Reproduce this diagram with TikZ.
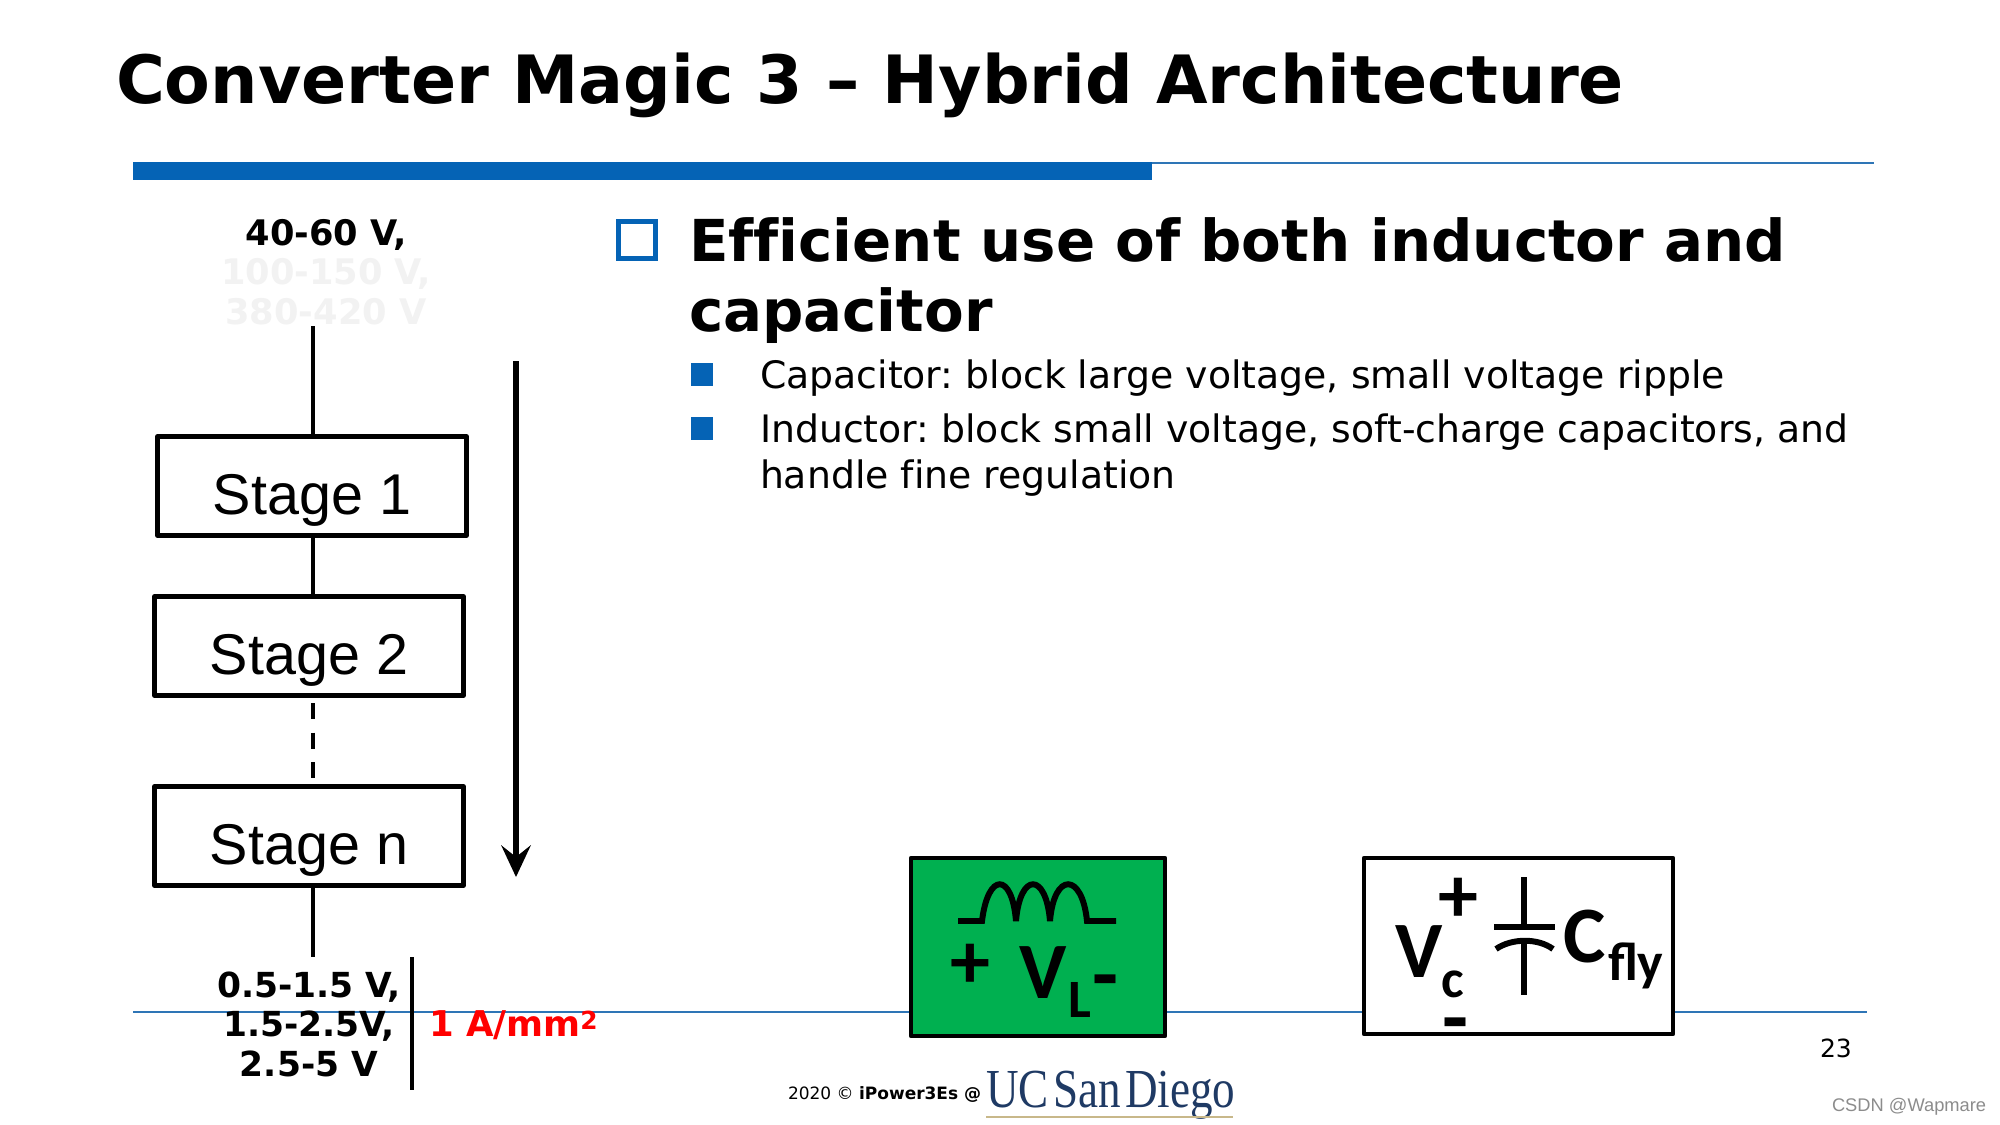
\documentclass[tikz,border=0pt]{standalone}
\usepackage{fontspec}
\setmainfont[Ligatures=NoCommon]{DejaVu Sans}
\newfontfamily\arialf{Liberation Sans}
\newfontfamily\carl{Carlito}
\newfontfamily\timesf[FakeStretch=0.82,WordSpace=0.4]{Liberation Serif}
\newcommand\pxf[1]{\pgfmathsetmacro\tmpfs{#1*1.42264}\fontsize{\tmpfs pt}{\tmpfs pt}\selectfont}
\frenchspacing
\definecolor{ucblue}{HTML}{0563B5}
\definecolor{linebl}{HTML}{2E75B6}
\definecolor{green1}{HTML}{00B050}
\definecolor{faint}{HTML}{F2F2F2}
\definecolor{logob}{HTML}{1F3A64}
\definecolor{logog}{HTML}{C8B88A}
\tikzset{
 txt/.style={inner sep=0pt,outer sep=0pt,anchor=base west},
 ctxt/.style={inner sep=0pt,outer sep=0pt,anchor=base},
 stagebox/.style={draw=black,line width=6.3pt,line join=round,fill=white,inner sep=0pt,minimum width=15.45cm,minimum height=4.95cm,text height=2.8cm,text depth=0pt,font=\arialf\pxf{57.5}},
 wire/.style={line width=6.3pt,black},
 sym/.style={line width=8.5pt,black},
 compbox/.style={draw=black,line width=6.3pt,line join=round,inner sep=0pt},
}
\begin{document}
\begin{tikzpicture}[x=0.05cm,y=-0.05cm]
\useasboundingbox (0,0) rectangle (2000,1125);
\fill[white] (0,0) rectangle (2000,1125);
% rules
\fill[ucblue] (133,162) rectangle (1152,180);
\draw[linebl,line width=3.5pt] (1152,163) -- (1874,163);
\draw[linebl,line width=3.5pt] (133,1012) -- (1867,1012);
% title
\node[txt,font=\bfseries\pxf{66.6}] (title) at (116,104) {Converter Magic 3 – Hybrid Architecture};
% left
\node[stagebox] (s1) at (312,486) {Stage 1};
\node[stagebox] (s2) at (309,646) {Stage 2};
\node[stagebox] (sn) at (309,836) {Stage n};
\coordinate (intop) at (313,326);
\coordinate (outbot) at (313,957);
\coordinate (dasha) at (313,703);
\coordinate (dashb) at (313,779);
\draw[wire] (intop) -- (313,436);
\draw[wire] (313,536) -- (313,597);
\draw[wire,dash pattern=on 22.8pt off 19.2pt] (dasha) -- (dashb);
\draw[wire] (313,886) -- (outbot);
\node[ctxt,font=\bfseries\pxf{35.2}] (v1) at (326,245) {40-60 V,};
\node[ctxt,font=\bfseries\pxf{35.2},text=faint] (v2) at (326,284) {100-150 V,};
\node[ctxt,font=\bfseries\pxf{35.2},text=faint] (v3) at (326,324) {380-420 V};
\coordinate (arrtop) at (516,361);
\coordinate (arrbot) at (516,877);
\draw[line width=8.5pt,black] (arrtop) -- (516,860);
\fill[black] (arrbot) -- (501,845) -- (516,857) -- (531,845) -- cycle;
\node[ctxt,font=\bfseries\pxf{34.5}] (o1) at (309,997) {0.5-1.5 V,};
\node[ctxt,font=\bfseries\pxf{34.5}] (o2) at (309,1036) {1.5-2.5V,};
\node[ctxt,font=\bfseries\pxf{34.5}] (o3) at (309,1076) {2.5-5 V};
\coordinate (vt) at (412,957);
\coordinate (vb) at (412,1090);
\draw[wire] (vt) -- (vb);
\node[txt,font=\bfseries\pxf{35.5},text=red] (dens) at (429,1036) {1 A/mm\textsuperscript{2}};
% bullets
\draw[ucblue,line width=7pt] (618.5,221.5) rectangle (655.5,258.5);
\node[txt,font=\bfseries\pxf{57.8}] (h1) at (689,261) {Efficient use of both inductor and};
\node[txt,font=\bfseries\pxf{57.8}] (h2) at (689,331) {capacitor};
\fill[ucblue] (691,363) rectangle (713,386);
\fill[ucblue] (691,417) rectangle (713,440);
\node[txt,font=\pxf{37.8}] (b1) at (760,388) {Capacitor: block large voltage, small voltage ripple};
\node[txt,font=\pxf{37.8}] (b2) at (760,442) {Inductor: block small voltage, soft-charge capacitors, and};
\node[txt,font=\pxf{37.8}] (b3) at (760,488) {handle fine regulation};
% green box
\node[compbox,fill=green1,minimum width=12.7cm,minimum height=8.9cm] (gb) at (1038,947) {};
\draw[sym] (958,921) -- (982,921) .. controls (988,872) and (1012,872) .. (1016,921)
  .. controls (1020,872) and (1046,872) .. (1050,921)
  .. controls (1054,872) and (1082,872) .. (1087,921) -- (1116,921);
\node[ctxt,font=\carl\bfseries\pxf{80}] (pl) at (970,988) {+};
\node[txt,font=\carl\bfseries\pxf{80}] (vl) at (1019,998) {V};
\node[txt,font=\carl\bfseries\pxf{54}] (vls) at (1068,1017) {L};
\node[ctxt,font=\carl\bfseries\pxf{85}] (mi) at (1105,1003) {-};
% white box
\node[compbox,fill=white,minimum width=15.45cm,minimum height=8.8cm] (wb) at (1518.5,946) {};
\draw[sym] (1524,877) -- (1524,927);
\draw[sym] (1494,927) -- (1555,927);
\draw[sym] (1496,949) .. controls (1512,938) and (1538,938) .. (1553,949);
\draw[sym] (1524,941) -- (1524,995);
\node[txt,font=\carl\bfseries\pxf{80}] (vc) at (1395,977) {V};
\node[txt,font=\carl\bfseries\pxf{54}] (vcs) at (1441,997) {c};
\node[ctxt,font=\carl\bfseries\pxf{80}] (vp) at (1458,922) {+};
\node[ctxt,font=\carl\bfseries\pxf{85}] (vm) at (1455,1046) {-};
\node[txt,font=\carl\bfseries\pxf{80}] (cf) at (1563,962) {C};
\node[txt,font=\carl\bfseries\pxf{54}] (fly) at (1608,980) {fly};
% footer
\node[txt,font=\pxf{17}] (ft) at (788,1099) {2020 © \textbf{iPower3Es @}};
\node[txt,font=\timesf\pxf{55},text=logob] (logo) at (986,1107) {UC San Diego};
\fill[logog] (986,1116) rectangle (1233,1118);
\node[txt,font=\pxf{25}] (pg) at (1820,1057) {23};
\node[txt,font=\arialf\pxf{18.3},text=black!45] (wm) at (1832,1111) {CSDN @Wapmare};
\end{tikzpicture}
\end{document}
